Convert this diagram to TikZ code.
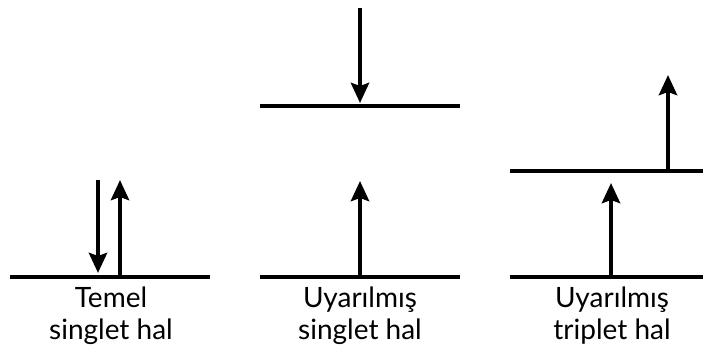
\documentclass[tikz,border=0pt]{standalone}
\usepackage{fontspec}
\setmainfont{Lato}
\usetikzlibrary{arrows.meta}

\tikzset{
  level/.style={line width=4.2pt},
  spin/.style={line width=4.5pt, -{Stealth[length=20pt,width=18pt,inset=3pt]}},
  statelabel/.style={anchor=north, align=center, inner sep=0pt,
    font=\fontsize{28}{32}\selectfont},
}

\begin{document}
\begin{tikzpicture}[x=1pt,y=-1pt]
  \useasboundingbox (0,0) rectangle (703,350);

  % ground singlet
  \coordinate (gsL) at (10,277);  \coordinate (gsR) at (210,277);
  \coordinate (gsDn) at (98,180); \coordinate (gsDnEnd) at (98,273);
  \coordinate (gsUp) at (120,277); \coordinate (gsUpEnd) at (120,180);
  \draw[level] (gsL) -- (gsR);
  \draw[spin] (gsDn) -- (gsDnEnd);
  \draw[spin] (gsUp) -- (gsUpEnd);
  \node[statelabel] (gsText) at (111,287) {Temel\\singlet hal};

  % excited singlet
  \coordinate (esL) at (260,277);  \coordinate (esR) at (460,277);
  \coordinate (esTopL) at (260,106); \coordinate (esTopR) at (460,106);
  \coordinate (esUp) at (360,277); \coordinate (esUpEnd) at (360,181);
  \coordinate (esDn) at (360,8);   \coordinate (esDnEnd) at (360,103);
  \draw[level] (esL) -- (esR);
  \draw[level] (esTopL) -- (esTopR);
  \draw[spin] (esUp) -- (esUpEnd);
  \draw[spin] (esDn) -- (esDnEnd);
  \node[statelabel] (esText) at (360,287) {Uyarılmış\\singlet hal};

  % excited triplet
  \coordinate (etL) at (510,277);  \coordinate (etR) at (703,277);
  \coordinate (etTopL) at (510,171); \coordinate (etTopR) at (703,171);
  \coordinate (etUp) at (611,277); \coordinate (etUpEnd) at (611,183);
  \coordinate (etUp2) at (668,171); \coordinate (etUp2End) at (668,75);
  \draw[level] (etL) -- (etR);
  \draw[level] (etTopL) -- (etTopR);
  \draw[spin] (etUp) -- (etUpEnd);
  \draw[spin] (etUp2) -- (etUp2End);
  \node[statelabel] (etText) at (612,287) {Uyarılmış\\triplet hal};
\end{tikzpicture}
\end{document}
